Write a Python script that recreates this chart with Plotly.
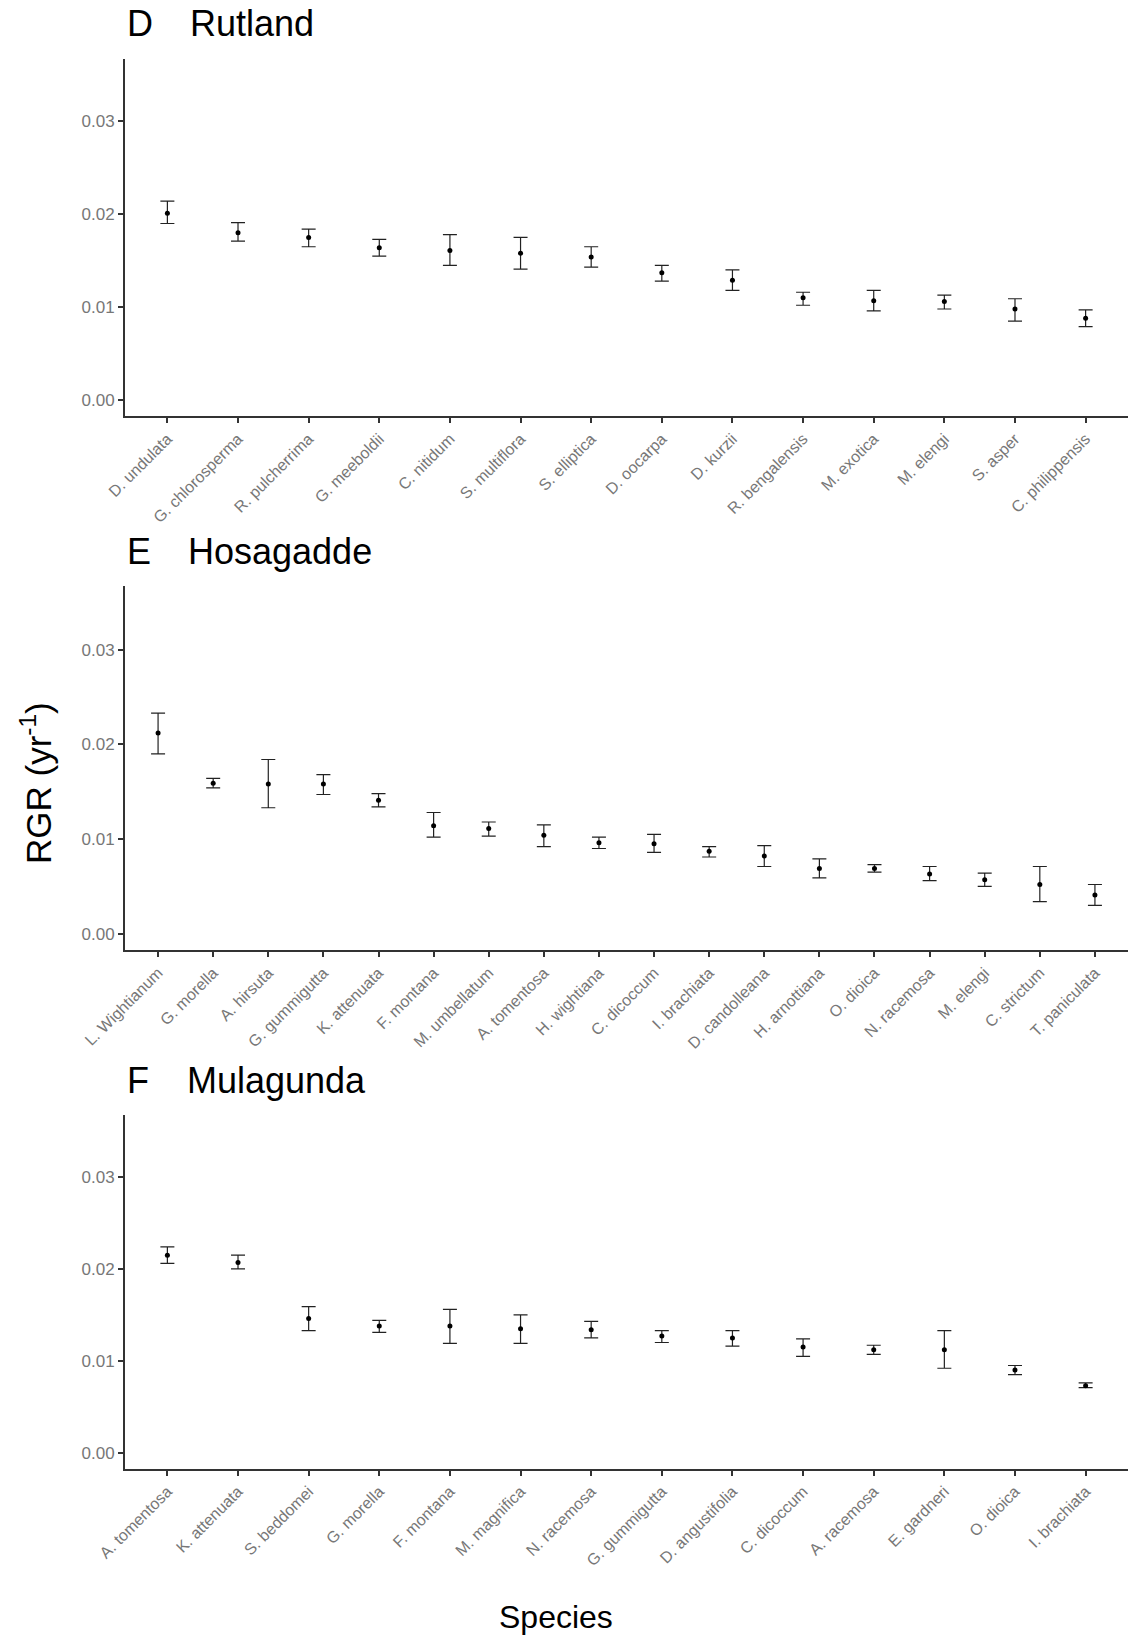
import plotly.graph_objects as go

# ---------------- data ----------------
rutland_species = ["D. undulata", "G. chlorosperma", "R. pulcherrima", "G. meeboldii", "C. nitidum",
                   "S. multiflora", "S. elliptica", "D. oocarpa", "D. kurzii", "R. bengalensis",
                   "M. exotica", "M. elengi", "S. asper", "C. philippensis"]
rutland_rgr = [0.0201, 0.0180, 0.0175, 0.0164, 0.0161, 0.0158, 0.0154, 0.0137, 0.0129, 0.0110,
               0.0107, 0.0106, 0.0098, 0.0088]
rutland_hi = [0.0214, 0.0191, 0.0184, 0.0173, 0.0178, 0.0175, 0.0165, 0.0145, 0.0140, 0.0116,
              0.0118, 0.0113, 0.0109, 0.0097]
rutland_lo = [0.0190, 0.0171, 0.0165, 0.0155, 0.0145, 0.0141, 0.0143, 0.0128, 0.0118, 0.0102,
              0.0096, 0.0098, 0.0085, 0.0079]

hosagadde_species = ["L. Wightianum", "G. morella", "A. hirsuta", "G. gummigutta", "K. attenuata",
                     "F. montana", "M. umbellatum", "A. tomentosa", "H. wightiana", "C. dicoccum",
                     "I. brachiata", "D. candolleana", "H. arnottiana", "O. dioica", "N. racemosa",
                     "M. elengi", "C. strictum", "T. paniculata"]
hosagadde_rgr = [0.0212, 0.0159, 0.0158, 0.0158, 0.0141, 0.0114, 0.0111, 0.0104, 0.0096, 0.0095,
                 0.0087, 0.0082, 0.0069, 0.0069, 0.0063, 0.0057, 0.0052, 0.0041]
hosagadde_hi = [0.0233, 0.0164, 0.0184, 0.0168, 0.0148, 0.0128, 0.0118, 0.0115, 0.0102, 0.0105,
                0.0092, 0.0093, 0.0079, 0.0073, 0.0071, 0.0064, 0.0071, 0.0052]
hosagadde_lo = [0.0190, 0.0154, 0.0133, 0.0147, 0.0134, 0.0102, 0.0103, 0.0092, 0.0090, 0.0086,
                0.0081, 0.0071, 0.0059, 0.0065, 0.0056, 0.0050, 0.0034, 0.0030]

mulagunda_species = ["A. tomentosa", "K. attenuata", "S. beddomei", "G. morella", "F. montana",
                     "M. magnifica", "N. racemosa", "G. gummigutta", "D. angustifolia", "C. dicoccum",
                     "A. racemosa", "E. gardneri", "O. dioica", "I. brachiata"]
mulagunda_rgr = [0.0215, 0.0207, 0.0146, 0.0138, 0.0138, 0.0135, 0.0134, 0.0127, 0.0125, 0.0115,
                 0.0112, 0.0112, 0.0090, 0.0073]
mulagunda_hi = [0.0224, 0.0215, 0.0159, 0.0144, 0.0156, 0.0150, 0.0143, 0.0133, 0.0133, 0.0124,
                0.0117, 0.0133, 0.0095, 0.0076]
mulagunda_lo = [0.0206, 0.0200, 0.0133, 0.0131, 0.0119, 0.0119, 0.0125, 0.0120, 0.0116, 0.0105,
                0.0107, 0.0092, 0.0085, 0.0071]

panel_letters = ["D", "E", "F"]
panel_names = ["Rutland", "Hosagadde", "Mulagunda"]
y_tick_vals = [0.0, 0.01, 0.02, 0.03]
y_tick_text = ["0.00", "0.01", "0.02", "0.03"]
y_title = "RGR (yr<sup>-1</sup>)"
x_title = "Species"

# ---------------- layout constants ----------------
W, H = 1128, 1638
FONT = "Liberation Sans, Arial, Helvetica, sans-serif"
AX_COLOR = "#333333"
TICK_FONT_COLOR = "#777777"
left_px = 125
# (top_px, bottom_px) of each panel
panel_px = [(58.6, 416.3), (585.7, 950.3), (1115.0, 1468.9)]
title_y_px = [24, 551, 1080]
name_x_px = [188, 186, 185]

panels = [
    (rutland_species, rutland_rgr, rutland_hi, rutland_lo),
    (hosagadde_species, hosagadde_rgr, hosagadde_hi, hosagadde_lo),
    (mulagunda_species, mulagunda_rgr, mulagunda_hi, mulagunda_lo),
]

fig = go.Figure()
annotations = []

for i, (sp, rgr, hi, lo) in enumerate(panels):
    xa = "x" if i == 0 else f"x{i+1}"
    ya = "y" if i == 0 else f"y{i+1}"
    plus = [h - m for h, m in zip(hi, rgr)]
    minus = [m - l for m, l in zip(rgr, lo)]
    fig.add_trace(go.Scatter(
        x=sp, y=rgr, mode="markers", xaxis=xa, yaxis=ya,
        marker=dict(color="black", size=5),
        error_y=dict(type="data", symmetric=False, array=plus, arrayminus=minus,
                     color="#222222", thickness=1.2, width=7),
        showlegend=False,
    ))
    top, bot = panel_px[i]
    dom_y = [1 - bot / H, 1 - top / H]
    xkey = "xaxis" if i == 0 else f"xaxis{i+1}"
    ykey = "yaxis" if i == 0 else f"yaxis{i+1}"
    fig.update_layout(**{
        xkey: dict(
            domain=[left_px / W, 1.0], anchor=ya, type="category",
            categoryorder="array", categoryarray=sp,
            range=[-0.6, len(sp) - 0.4], automargin=False,
            showline=True, linewidth=2, linecolor=AX_COLOR,
            ticks="outside", ticklen=5, tickwidth=2, tickcolor=AX_COLOR,
            tickangle=-45, showgrid=False, zeroline=False,
            tickfont=dict(family=FONT, size=16, color=TICK_FONT_COLOR),
        ),
        ykey: dict(
            domain=dom_y, anchor=xa, range=[-0.00175, 0.03675], automargin=False,
            tickvals=y_tick_vals, ticktext=y_tick_text,
            showline=True, linewidth=2, linecolor=AX_COLOR,
            ticks="outside", ticklen=5, tickwidth=2, tickcolor=AX_COLOR,
            showgrid=False, zeroline=False,
            tickfont=dict(family=FONT, size=17, color=TICK_FONT_COLOR),
        ),
    })
    annotations.append(dict(
        x=left_px / W, y=1 - title_y_px[i] / H, xref="paper", yref="paper",
        text=panel_letters[i], showarrow=False, xanchor="left", yanchor="middle",
        font=dict(family=FONT, size=36, color="black"),
    ))
    annotations.append(dict(
        x=name_x_px[i] / W, y=1 - title_y_px[i] / H, xref="paper", yref="paper",
        text=panel_names[i], showarrow=False, xanchor="left", yanchor="middle",
        font=dict(family=FONT, size=36, color="black"),
    ))

annotations.append(dict(
    x=36 / W, y=1 - 783 / H, xref="paper", yref="paper", text=y_title,
    showarrow=False, textangle=-90, xanchor="center", yanchor="middle",
    font=dict(family=FONT, size=35, color="black"),
))
annotations.append(dict(
    x=556 / W, y=1 - 1617 / H, xref="paper", yref="paper", text=x_title,
    showarrow=False, xanchor="center", yanchor="middle",
    font=dict(family=FONT, size=32, color="black"),
))

fig.update_layout(
    width=W, height=H,
    margin=dict(l=0, r=0, t=0, b=0, autoexpand=False),
    paper_bgcolor="white", plot_bgcolor="white",
    annotations=annotations,
)

fig.write_html(
    "out.html",
    config={"displayModeBar": False},
    post_script="document.body.style.margin='0';document.body.style.overflow='hidden';",
)
